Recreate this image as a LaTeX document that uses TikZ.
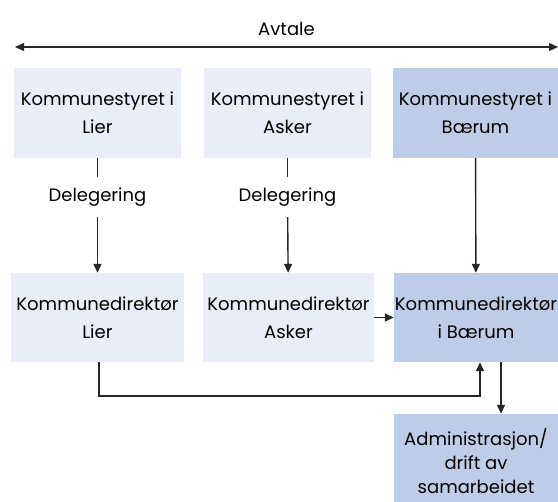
\documentclass[tikz,border=0pt]{standalone}
\usepackage{fontspec}
\setmainfont{Poppins}
\usepackage{tikz}
\usetikzlibrary{arrows.meta, positioning}

\definecolor{LightBox}{RGB}{233,237,247}
\definecolor{DarkBox}{RGB}{189,205,232}

\begin{document}
\begin{tikzpicture}[x=1pt, y=-1pt,
		box/.style={fill=LightBox, minimum height=90pt, align=center, inner sep=0pt,
			font=\fontsize{18}{28}\selectfont},
		baerum/.style={box, fill=DarkBox},
		label/.style={font=\fontsize{18}{20}\selectfont},
		link/.style={line width=1.4pt, draw=black!85},
		tip/.style={-{Triangle[width=8pt, length=9pt]}}]
				\useasboundingbox (0, 0) rectangle (558, 502);

				\coordinate (AvtaleL) at (15, 47);
				\coordinate (AvtaleR) at (558, 47);
				\draw[link, {Triangle[width=8pt, length=9pt]}-{Triangle[width=8pt, length=9pt]}] (AvtaleL) -- node[above=7pt, label] (Avtale) {Avtale} (AvtaleR);

				\node (StyretLier) [box, minimum width=167pt] at (97.5, 113) {Kommunestyret i\\Lier};
				\node (StyretAsker) [box, minimum width=167pt] at (287.5, 113) {Kommunestyret i\\Asker};
				\node (StyretBaerum) [baerum, minimum width=165pt] at (475.5, 113) {Kommunestyret i\\Bærum};

				\node (DelegLier) [label, minimum height=40pt] at (97.5, 197) {Delegering};
				\node (DelegAsker) [label, minimum height=40pt] at (287.5, 197) {Delegering};

				\node (DirLier) [box, minimum width=173pt, minimum height=89pt] at (97.5, 317.5) {Kommunedirektør\\Lier};
				\node (DirAsker) [box, minimum width=171pt, minimum height=89pt] at (288.5, 317.5) {Kommunedirektør\\Asker};
				\node (DirBaerum) [baerum, minimum width=164pt, minimum height=89pt] at (476, 317.5) {Kommunedirektør\\i Bærum};

				\node (Drift) [baerum, minimum width=164pt, minimum height=94pt, font=\fontsize{18}{24}\selectfont] at (476, 461) {Administrasjon/\\drift av\\samarbeidet};

				\draw[link] (StyretLier) -- (DelegLier);
				\draw[link, tip] (DelegLier) -- (DirLier);
				\draw[link] (StyretAsker) -- (DelegAsker);
				\draw[link, tip] (DelegAsker) -- (DirAsker);
				\draw[link, tip] (StyretBaerum) -- (DirBaerum);
				\draw[link, tip] (DirAsker) -- (DirBaerum);
				\draw[link, tip] ([xshift=1.5pt]DirLier.south) -- ++(0, 34) -| ([xshift=4pt]DirBaerum.south);
				\draw[link, tip] ([xshift=25pt]DirBaerum.south) -- ([xshift=25pt]Drift.north);
			\end{tikzpicture}
\end{document}
